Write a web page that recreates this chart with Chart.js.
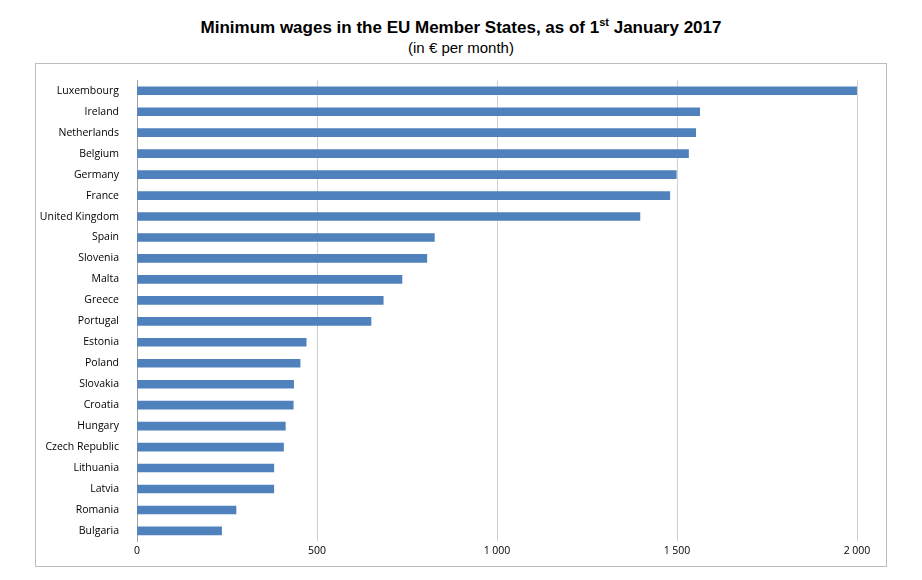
<!DOCTYPE html>
<html><head><meta charset="utf-8">
<script src="https://cdn.jsdelivr.net/npm/chart.js@4"></script>
<style>
body{margin:0;background:#fff;width:922px;height:580px;position:relative;font-family:"Liberation Sans",Arial,sans-serif}
#t{position:absolute;top:16px;left:0;width:922px;text-align:center;font-weight:bold;font-size:17px;color:#000}
#s{position:absolute;top:39px;left:0;width:922px;text-align:center;font-size:15px;color:#000}
#box{position:absolute;left:35px;top:63px;width:850px;height:502px;border:1px solid #bdbdbd}
</style></head><body>
<div id="t">Minimum wages in the EU Member States, as of 1<sup style="font-size:11px">st</sup> January 2017</div>
<div id="s">(in € per month)</div>
<div id="box"><canvas id="c"></canvas></div>
<script>
const countries=["Luxembourg","Ireland","Netherlands","Belgium","Germany","France","United Kingdom","Spain","Slovenia","Malta","Greece","Portugal","Estonia","Poland","Slovakia","Croatia","Hungary","Czech Republic","Lithuania","Latvia","Romania","Bulgaria"];
const wages=[1999,1563,1552,1532,1498,1480,1397,826,805,736,684,650,470,453,435,434,412,407,380,380,275,235];
new Chart(document.getElementById('c'),{type:'bar',
data:{labels:countries,datasets:[{data:wages,backgroundColor:'#4f81bd',barThickness:8}]},
options:{indexAxis:'y',responsive:true,maintainAspectRatio:false,animation:false,
layout:{padding:{top:13,right:29,bottom:6,left:0}},
plugins:{legend:{display:false},tooltip:{enabled:false}},
scales:{
x:{min:0,max:2000,ticks:{stepSize:500,color:'#000',font:{family:'Open Sans',size:10.5},callback:v=>v>=1000?String(v).replace(/(\d)(\d{3})$/,'$1 $2'):v},
 grid:{color:'#d0d0d0',drawTicks:false,tickLength:0},border:{display:false}},
y:{afterFit:s=>{s.width=101},ticks:{color:'#000',font:{family:'Open Sans',size:10.5},padding:10},
 grid:{display:false},border:{display:true,color:'#a0a0a0'}}
}}});
</script></body></html>
